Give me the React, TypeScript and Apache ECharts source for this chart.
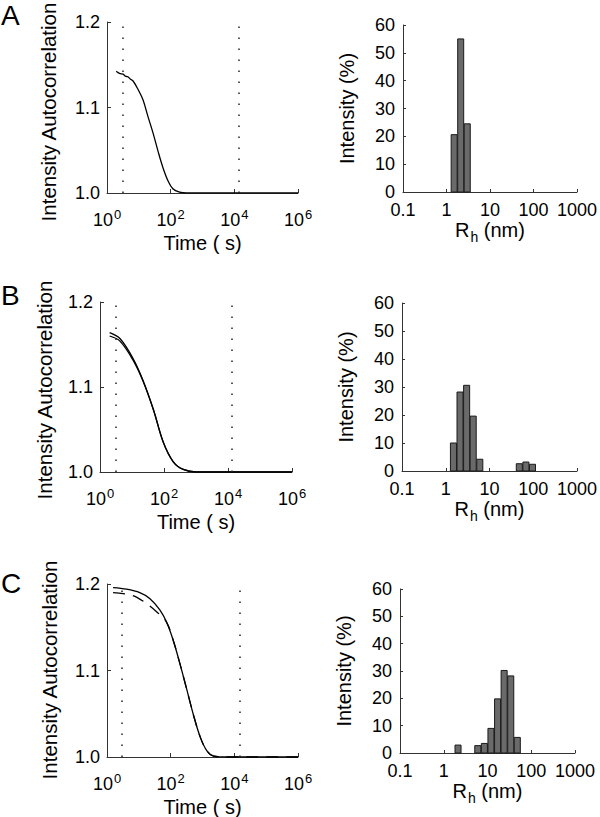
import React, { useEffect, useRef } from "react";
import * as echarts from "echarts";

// ---- Data ----
const panelLetters = ["A", "B", "C"];

// Autocorrelation curves: time (s) and g2
const timeA = [1.95, 2.3, 2.6, 3.2, 3.8, 4.5, 5.5, 6.6, 9.5, 13.5, 19.5, 28, 40, 58, 83, 117, 190, 316, 1000, 10000, 100000, 1000000];
const gA = [1.1425, 1.1405, 1.1395, 1.139, 1.1365, 1.136, 1.133, 1.131, 1.121, 1.109, 1.089, 1.07, 1.049, 1.029, 1.014, 1.005, 1.001, 1.0, 1.0, 1.0, 1.0, 1.0];

const timeB = [2.0, 4.2, 11, 22, 47, 95, 195, 400, 1000, 10000, 100000, 1000000];
const gB1 = [1.164, 1.157, 1.133, 1.108, 1.073, 1.035, 1.012, 1.003, 1.0, 1.0, 1.0, 1.0];
const gB2 = [1.16, 1.154, 1.131, 1.107, 1.073, 1.035, 1.012, 1.003, 1.0, 1.0, 1.0, 1.0];

const timeC = [1.55, 4.1, 10.7, 22.4, 45.7, 74, 120, 195, 316, 525, 850, 1380, 2240, 5900, 100000, 1000000];
const gC1 = [1.1958, 1.194, 1.19, 1.183, 1.17, 1.156, 1.135, 1.108, 1.079, 1.048, 1.023, 1.007, 1.001, 1.0, 1.0, 1.0];
const timeC2 = [1.55, 5.9, 13.8, 36, 74, 120, 195, 316, 525, 850, 1380, 2240, 5900, 100000, 1000000];
const gC2 = [1.19, 1.187, 1.18, 1.168, 1.156, 1.135, 1.108, 1.079, 1.048, 1.023, 1.007, 1.001, 1.0, 1.0, 1.0];

// Dotted reference lines (s)
const dotsA = [3.2, 14000];
const dotsB = [3.0, 13500];
const dotsC = [2.9, 14800];

// Size distributions: bin centres (nm) and intensity (%)
const rhA = [1.5, 2.12, 3.0];
const intA = [20.6, 55, 24.5];
const rhB = [1.5, 2.12, 3.0, 4.24, 6.0, 48, 68, 96];
const intB = [10.0, 28.2, 30.6, 19.6, 4.2, 2.6, 3.2, 2.4];
const rhC = [2.12, 6.0, 8.49, 12, 17, 24, 34, 48];
const intC = [2.9, 2.7, 3.5, 9.0, 19.8, 30.2, 28.2, 5.7];

const leftTicks = [0, 2, 4, 6];
const gTicks = [1.0, 1.1, 1.2];
const intTicks = [0, 10, 20, 30, 40, 50, 60];
const rhTicks = [0.1, 1, 10, 100, 1000];
const yNameLeft = "Intensity Autocorrelation";

const FONT = "'Liberation Sans', Arial, Helvetica, sans-serif";

const leftGrids = [
  { left: 107, top: 22, width: 191, height: 171 },
  { left: 100, top: 302, width: 192, height: 170 },
  { left: 107, top: 584, width: 191, height: 173 },
];
const rightGrids = [
  { left: 403, top: 25, width: 174, height: 167 },
  { left: 402, top: 303, width: 175, height: 168 },
  { left: 400, top: 589, width: 175, height: 164 },
];
const letterTops = [1, 281, 569];
const yNamePos = [
  [48, 112],
  [44, 390],
  [49, 670],
];

export default function App() {
  const ref = useRef<HTMLDivElement>(null);
  useEffect(() => {
    if (!ref.current) return;
    const chart = echarts.init(ref.current, null, { renderer: "svg" });

    const grids: any[] = [];
    const xAxes: any[] = [];
    const yAxes: any[] = [];
    const series: any[] = [];

    const curves = [
      { lines: [{ t: timeA, g: gA, dash: "solid" }], dots: dotsA },
      {
        lines: [
          { t: timeB, g: gB1, dash: "solid" },
          { t: timeB, g: gB2, dash: "solid" },
        ],
        dots: dotsB,
      },
      {
        lines: [
          { t: timeC, g: gC1, dash: "solid" },
          { t: timeC2, g: gC2, dash: [12, 8] },
        ],
        dots: dotsC,
      },
    ];
    const hists = [
      { rh: rhA, v: intA },
      { rh: rhB, v: intB },
      { rh: rhC, v: intC },
    ];

    const tickLabel = { color: "#000", fontSize: 18, fontFamily: FONT };
    const axisLine = { show: true, lineStyle: { color: "#333", width: 1 } };

    for (let i = 0; i < 3; i++) {
      // left grid
      const li = grids.length;
      grids.push({ ...leftGrids[i], outerBoundsMode: "none", containLabel: false });
      xAxes.push({
        type: "log",
        logBase: 100,
        gridIndex: li,
        min: Math.pow(10, leftTicks[0]),
        max: Math.pow(10, leftTicks[leftTicks.length - 1]),
        axisLine,
        axisTick: { show: true, inside: true, length: 4, lineStyle: { color: "#333" } },
        minorTick: { show: false },
        splitLine: { show: false },
        axisLabel: {
          margin: 10,
          formatter: (v: number) => `{b|10}{s|${Math.round(Math.log10(v))}}`,
          rich: {
            b: { fontSize: 18, fontFamily: FONT, color: "#000", padding: [8, 0, 0, 0] },
            s: { fontSize: 13, fontFamily: FONT, color: "#000", padding: [0, 0, 4, 1] },
          },
        },
        name: "Time ( s)",
        nameLocation: "middle",
        nameGap: 40,
        nameTextStyle: { fontSize: 20, fontFamily: FONT, color: "#000" },
      });
      yAxes.push({
        type: "value",
        gridIndex: li,
        min: gTicks[0],
        max: gTicks[gTicks.length - 1],
        interval: 0.1,
        axisLine,
        axisTick: { show: true, inside: true, length: 4, lineStyle: { color: "#333" } },
        splitLine: { show: false },
        axisLabel: { ...tickLabel, margin: 7, formatter: (v: number) => v.toFixed(1) },
      });
      curves[i].lines.forEach((ln, k) => {
        series.push({
          type: "line",
          xAxisIndex: li,
          yAxisIndex: li,
          data: ln.t.map((t, j) => [t, ln.g[j]]),
          showSymbol: false,
          smooth: 0.35,
          lineStyle: { color: "#000", width: 1.3, type: ln.dash },
          markLine:
            k === 0
              ? {
                  silent: true,
                  symbol: "none",
                  label: { show: false },
                  lineStyle: { color: "#222", width: 1.5, type: [1.5, 9.5] },
                  data: curves[i].dots.map((d) => ({ xAxis: d })),
                }
              : undefined,
          z: 3,
        });
      });

      // right grid
      const ri = grids.length;
      grids.push({ ...rightGrids[i], outerBoundsMode: "none", containLabel: false });
      xAxes.push({
        type: "log",
        logBase: 10,
        gridIndex: ri,
        min: rhTicks[0],
        max: rhTicks[rhTicks.length - 1],
        axisLine,
        axisTick: { show: true, inside: true, length: 3, lineStyle: { color: "#333" } },
        minorTick: { show: false },
        splitLine: { show: false },
        axisLabel: {
          ...tickLabel,
          margin: 9,
          formatter: (v: number) => {
            const r = rhTicks.find((t) => Math.abs(Math.log10(t) - Math.log10(v)) < 1e-6);
            return r !== undefined ? String(r) : "";
          },
        },
        name: "{r|R}{h|h}{r| (nm)}",
        nameLocation: "middle",
        nameGap: 22,
        nameTextStyle: {
          fontSize: 20,
          fontFamily: FONT,
          color: "#000",
          rich: {
            r: { fontSize: 20, fontFamily: FONT, color: "#000" },
            h: { fontSize: 14, fontFamily: FONT, color: "#000", padding: [14, 0, 0, 1] },
          },
        },
      });
      yAxes.push({
        type: "value",
        gridIndex: ri,
        min: intTicks[0],
        max: intTicks[intTicks.length - 1],
        interval: 10,
        axisLine,
        axisTick: { show: true, inside: true, length: 3, lineStyle: { color: "#333" } },
        splitLine: { show: false },
        axisLabel: { ...tickLabel, margin: 8 },
        name: "Intensity (%)",
        nameLocation: "middle",
        nameGap: 46,
        nameTextStyle: { fontSize: 20, fontFamily: FONT, color: "#000" },
      });
      const h = hists[i];
      series.push({
        type: "custom",
        xAxisIndex: ri,
        yAxisIndex: ri,
        data: h.rh.map((r, j) => [r, h.v[j]]),
        renderItem: (params: any, api: any) => {
          const c = api.value(0);
          const v = api.value(1);
          const half = Math.pow(10, 0.069);
          const p1 = api.coord([c / half, v]);
          const p2 = api.coord([c * half, 0]);
          return {
            type: "rect",
            shape: { x: p1[0], y: p1[1], width: p2[0] - p1[0], height: p2[1] - p1[1] },
            style: { fill: "#6a6a6a", stroke: "#1a1a1a", lineWidth: 1 },
          };
        },
        z: 2,
      });
    }

    const graphics: any[] = panelLetters.map((L, i) => ({
      type: "text",
      left: 1,
      top: letterTops[i],
      style: { text: L, fontSize: 28, fontFamily: FONT, fill: "#000" },
    }));
    yNamePos.forEach(([x, y]) => {
      graphics.push({
        type: "text",
        x,
        y,
        rotation: Math.PI / 2,
        style: {
          text: yNameLeft,
          fontSize: 20.5,
          fontFamily: FONT,
          fill: "#000",
          align: "center",
          verticalAlign: "middle",
        },
      });
    });

    const option: any = {
      animation: false,
      backgroundColor: "#fff",
      grid: grids,
      xAxis: xAxes,
      yAxis: yAxes,
      series,
      graphic: graphics,
    };
    chart.setOption(option);
    return () => chart.dispose();
  }, []);

  return (
    <div
      ref={ref}
      style={{ position: "absolute", left: 0, top: 0, width: 600, height: 817, background: "#fff" }}
    />
  );
}
